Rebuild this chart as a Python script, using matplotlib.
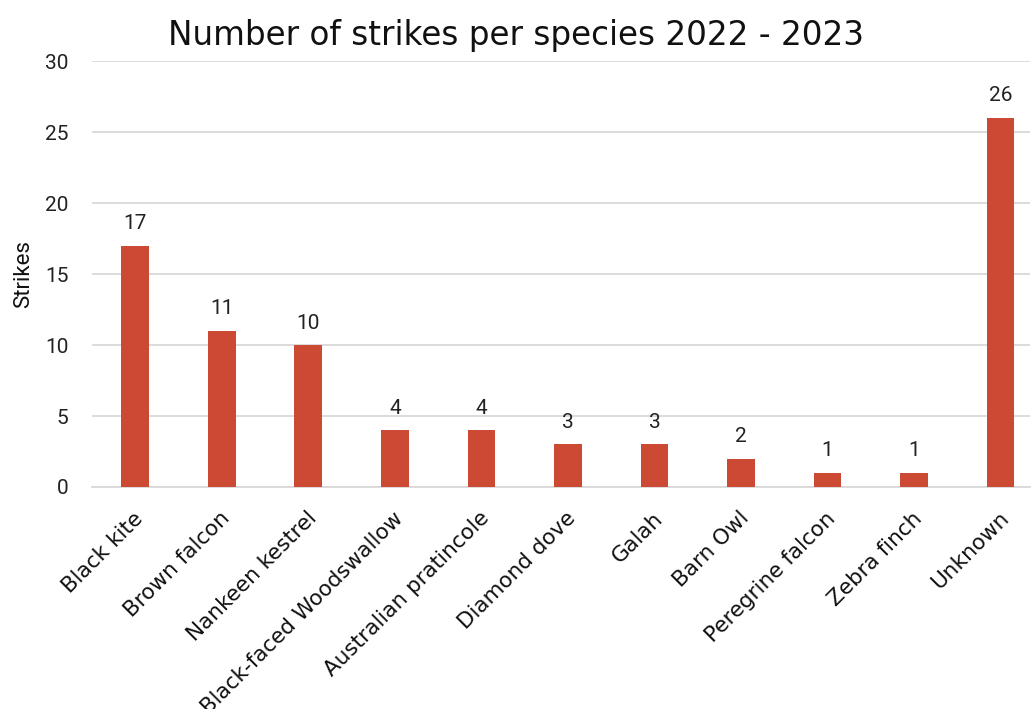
import matplotlib.pyplot as plt
import matplotlib.transforms as mtransforms

# data
species = ["Black kite", "Brown falcon", "Nankeen kestrel", "Black-faced Woodswallow",
           "Australian pratincole", "Diamond dove", "Galah", "Barn Owl",
           "Peregrine falcon", "Zebra finch", "Unknown"]
strikes = [17, 11, 10, 4, 4, 3, 3, 2, 1, 1, 26]
yticks = [0, 5, 10, 15, 20, 25, 30]

bar_color = "#CC4A33"
grid_color = "#D9D9D9"

fig = plt.figure(figsize=(10.31, 7.09), dpi=100)
ax = fig.add_axes([92 / 1031, 1 - 487 / 709, (1030 - 92) / 1031, 426 / 709])

x = range(len(species))
bars = ax.bar(x, strikes, width=0.32, color=bar_color, zorder=3)

# value labels
for b, v in zip(bars, strikes):
    ax.annotate(str(v), (b.get_x() + b.get_width() / 2, v), xytext=(0, 9),
                textcoords="offset points", ha="center", va="bottom",
                fontsize=15, family="Roboto", color="#222222")

ax.set_ylim(0, 30)
ax.set_xlim(-0.5, 10.34)
ax.set_yticks(yticks)
ax.set_yticklabels([str(t) for t in yticks], fontsize=15, family="Roboto", color="#222222")
ax.set_xticks(list(x))
ax.set_xticklabels(species, rotation=45, ha="right", rotation_mode="anchor",
                   fontsize=15.5, family="DejaVu Sans", color="#111111")
ax.tick_params(axis="both", length=0)
ax.tick_params(axis="y", pad=17)
ax.tick_params(axis="x", pad=8)

# nudge x labels a bit left and down
shift = mtransforms.ScaledTranslation(-2 / 100, -10 / 100, fig.dpi_scale_trans)
for lbl in ax.get_xticklabels():
    lbl.set_transform(lbl.get_transform() + shift)

ax.grid(axis="y", color=grid_color, linewidth=1.3, zorder=0)
for s in ["top", "right", "left"]:
    ax.spines[s].set_visible(False)
ax.spines["bottom"].set_color(grid_color)
ax.spines["bottom"].set_linewidth(1.3)

ax.set_ylabel("Strikes", fontsize=16, family="Roboto", color="#111111", labelpad=8)
fig.text(516 / 1031, 1 - 35 / 709, "Number of strikes per species 2022 - 2023",
         ha="center", va="center", fontsize=23.5, color="#111111")

fig.savefig("out.png", dpi=100)
